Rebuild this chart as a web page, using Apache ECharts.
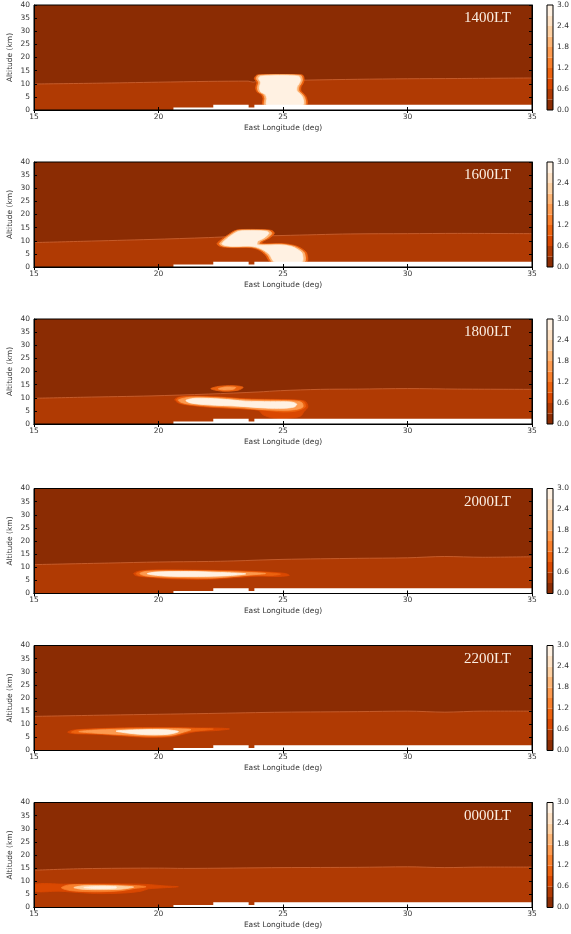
<!DOCTYPE html>
<html><head><meta charset="utf-8">
<script src="https://cdn.jsdelivr.net/npm/echarts@6/dist/echarts.min.js"></script>
<style>html,body{margin:0;padding:0;background:#fff}#c{width:571px;height:934px}</style>
</head><body><div id="c"></div>
<script>
// ---------- data ----------
const panelLabels = ['1400LT','1600LT','1800LT','2000LT','2200LT','0000LT'];
const lonTicks = [15, 20, 25, 30, 35];
const altTicks = [0, 5, 10, 15, 20, 25, 30, 35, 40];
const levelBounds = [0.0,0.3,0.6,0.9,1.2,1.5,1.8,2.1,2.4,2.7,3.0];
const cbTicks = [0.0,0.6,1.2,1.8,2.4,3.0];
const backgroundLevel = 0.15;   // value of the upper region
const lowerLevel = 0.45;        // value of the lower region

// terrain (white mask): [lon, km]
const terrain = [[15,0],[20.6,0],[20.6,0.95],[22.2,0.95],[22.2,2.0],[23.62,2.0],[23.62,0.95],[23.85,0.95],[23.85,2.0],[35,2.0]];

// top of the lower (0.3-0.6) layer
const lowerTop1400 = [[15,9.9],[17.5,10.2],[20,10.6],[22,10.9],[23.6,11.0],[23.8,10.6],[24.0,11.0],[26,11.4],[28,11.7],[30,11.9],[32,12.0],[35,12.2]];
const lowerTop1600 = [[15,9.3],[17,9.8],[19.7,10.5],[22,11.2],[23,11.6],[25,12.0],[27.7,12.6],[30,12.7],[32,12.8],[35,12.7]];
const lowerTop1800 = [[15,9.8],[17,10.2],[19.7,10.7],[22,11.4],[24,12.2],[24.9,12.7],[26.5,13.2],[28,13.3],[30,13.5],[32,13.3],[35,13.2]];
const lowerTop2000 = [[15,11.0],[18,11.6],[20,12.0],[22,12.2],[23,12.4],[25,13.0],[28,13.4],[30,13.6],[31.5,14.1],[33,13.8],[35,14.0]];
const lowerTop2200 = [[15,13.0],[18,13.5],[20,13.8],[22,14.1],[25,14.6],[28,14.8],[30,15.0],[31.5,14.6],[33,15.0],[35,15.0]];
const lowerTop0000 = [[15,14.2],[17,14.8],[20,15.0],[21,14.9],[25,15.2],[28,15.3],[30,15.5],[31.5,15.2],[33,15.4],[35,15.4]];

// cloud contours: level value + outline [lon, km]
const clouds1400 = [
  {v:1.05, pts:[[23.95,13.3],[24.1,13.45],[25.6,13.45],[25.8,13.2],[25.85,11.5],[25.8,10.0],[25.72,8.8],[25.72,7.2],[25.85,6.0],[25.95,4.5],[25.95,2],[24.2,2],[24.2,4.5],[24.12,6.0],[23.95,7.0],[23.9,8.5],[23.95,10.5],[23.85,12.0],[23.9,12.9]]},
  {v:1.95, pts:[[24.02,13.2],[25.7,13.2],[25.78,11.5],[25.72,10],[25.64,8.8],[25.64,7.2],[25.78,6.0],[25.88,4.5],[25.88,2],[24.27,2],[24.27,4.5],[24.2,6.0],[24.02,7],[23.97,8.5],[24.02,10.5],[23.93,12]]},
  {v:2.85, pts:[[24.1,12.9],[25.62,12.9],[25.7,11.5],[25.64,10],[25.56,8.8],[25.56,7.2],[25.7,6.0],[25.8,4.5],[25.8,2],[24.35,2],[24.35,4.5],[24.28,6.0],[24.1,7],[24.05,8.5],[24.1,10.5],[24.02,12]]}
];
const clouds1600 = [
  {v:1.05, pts:[[22.35,8.9],[22.6,11.0],[22.8,12.3],[23.05,13.8],[23.3,14.25],[24.1,14.25],[24.55,13.9],[24.65,12.8],[24.45,11.0],[24.2,9.8],[24.15,8.9],[25.0,8.9],[25.5,8.1],[25.75,7.0],[25.95,5.3],[25.95,2],[24.5,2],[24.3,4.5],[24.05,6.4],[23.7,7.4],[22.9,7.4],[22.5,7.8]]},
  {v:1.95, pts:[[22.45,8.9],[22.68,11.0],[22.88,12.3],[23.12,13.7],[23.35,14.05],[24.05,14.05],[24.45,13.75],[24.55,12.8],[24.35,11.0],[24.1,9.8],[24.05,8.65],[24.95,8.65],[25.42,7.95],[25.66,6.9],[25.86,5.3],[25.86,2],[24.58,2],[24.38,4.6],[24.13,6.5],[23.75,7.65],[22.92,7.65],[22.58,8.0]]},
  {v:2.85, pts:[[22.55,8.9],[22.78,11.0],[22.97,12.3],[23.2,13.5],[23.42,13.8],[24.0,13.8],[24.35,13.55],[24.43,12.8],[24.22,11.0],[23.98,9.8],[23.98,8.4],[24.9,8.4],[25.33,7.8],[25.56,6.8],[25.76,5.3],[25.76,2],[24.66,2],[24.46,4.7],[24.2,6.6],[23.8,7.9],[22.95,7.9],[22.68,8.2]]}
];
const clouds1800 = [
  {v:0.75, pts:[[20.65,9.3],[20.8,10.2],[21.3,10.6],[22.5,10.3],[23.5,9.6],[24.5,9.4],[25.4,9.2],[25.9,8.6],[26.0,6.5],[25.85,4.8],[25.7,3.0],[25.2,2.2],[24.6,2.3],[24.2,3.5],[24.0,5.3],[23.0,5.9],[22.0,6.4],[21.2,7.2],[20.8,8.0]]},
  {v:1.05, pts:[[20.72,9.3],[20.85,10.1],[21.3,10.45],[22.5,10.15],[23.5,9.45],[24.5,9.25],[25.4,9.05],[25.82,8.5],[25.9,6.5],[25.55,5.0],[25.0,4.6],[24.3,5.2],[23.1,6.0],[22.0,6.6],[21.2,7.35],[20.85,8.1]]},
  {v:1.65, pts:[[20.8,9.2],[21.3,10.2],[22.5,9.9],[23.5,9.2],[24.5,9.0],[25.4,8.8],[25.75,8.2],[25.8,6.5],[25.5,5.5],[25.0,5.2],[24.2,5.5],[23.2,6.3],[22.0,6.9],[21.2,7.6],[20.9,8.3]]},
  {v:2.85, pts:[[21.1,9.0],[21.5,9.8],[22.5,9.5],[23.5,8.7],[24.5,8.5],[25.3,8.4],[25.55,7.6],[25.45,6.5],[25.0,6.0],[24.3,6.1],[23.2,6.8],[22.0,7.3],[21.3,8.0]]},
  {v:1.05, pts:[[22.1,13.4],[22.4,14.3],[23.0,14.6],[23.4,14.0],[23.2,12.9],[22.6,12.5]]},
  {v:1.65, pts:[[22.4,13.4],[22.7,14.1],[23.1,13.9],[23.0,13.2],[22.6,13.0]]}
];
const clouds2000 = [
  {v:0.75, pts:[[19.0,7.6],[19.2,8.5],[19.8,8.95],[21.0,8.95],[22.5,8.75],[23.5,8.55],[24.5,8.1],[25.1,7.6],[25.25,6.9],[24.8,6.5],[24.0,6.6],[23.0,6.0],[22.0,5.4],[20.5,5.6],[19.6,6.2],[19.1,6.8]]},
  {v:1.05, pts:[[19.1,7.6],[19.3,8.4],[19.85,8.8],[21.0,8.8],[22.5,8.6],[23.5,8.35],[24.4,7.9],[24.9,7.4],[24.6,6.9],[23.8,6.9],[22.9,6.3],[22.0,5.7],[20.5,5.85],[19.7,6.4],[19.2,6.9]]},
  {v:1.65, pts:[[19.25,7.6],[19.5,8.4],[21.0,8.6],[22.5,8.4],[23.6,8.0],[24.3,7.6],[23.6,7.0],[22.8,6.3],[22.0,5.9],[20.5,6.2],[19.5,6.7]]},
  {v:2.85, pts:[[19.55,7.5],[19.9,8.15],[21.2,8.35],[22.5,8.0],[23.5,7.5],[22.8,6.8],[21.6,6.5],[20.2,6.7]]}
];
const clouds2200 = [
  {v:0.75, pts:[[16.35,7.0],[16.6,7.8],[17.5,8.3],[19.0,8.7],[20.5,8.7],[21.5,8.6],[22.5,8.5],[22.85,8.2],[22.3,7.6],[21.5,7.2],[21.0,6.2],[20.5,5.2],[19.5,5.0],[18.5,5.6],[17.5,6.2],[16.6,6.4]]},
  {v:1.05, pts:[[16.5,7.0],[16.7,7.7],[17.5,8.15],[19.0,8.55],[20.5,8.55],[21.5,8.4],[22.2,8.2],[21.8,7.7],[21.2,7.1],[20.8,6.1],[20.4,5.4],[19.5,5.25],[18.5,5.8],[17.5,6.4],[16.7,6.6]]},
  {v:1.65, pts:[[16.8,7.2],[17.5,7.8],[19.0,8.2],[20.5,8.3],[21.3,8.0],[21.0,7.0],[20.5,5.8],[19.5,5.6],[18.5,6.1],[17.5,6.6]]},
  {v:2.85, pts:[[18.3,7.4],[19.2,7.9],[20.3,7.9],[20.8,7.2],[20.4,6.2],[19.6,6.0],[18.8,6.6]]}
];
const clouds0000 = [
  {v:0.75, pts:[[15,8.8],[16.2,8.9],[18.5,9.0],[19.5,8.8],[20.3,8.2],[20.8,7.9],[20.2,7.5],[19.6,7.1],[19.3,6.2],[18.6,5.5],[17.5,5.3],[16.5,5.9],[16.0,6.2],[15,6.2]]},
  {v:1.35, pts:[[16.1,7.5],[16.4,8.6],[17.5,8.7],[19.0,8.4],[19.5,7.9],[19.0,7.2],[18.5,6.4],[17.5,6.0],[16.5,6.4]]},
  {v:2.25, pts:[[16.6,7.6],[17.0,8.3],[18.2,8.3],[19.0,7.8],[18.5,7.0],[17.5,6.8],[16.9,7.0]]},
  {v:2.85, pts:[[17.0,7.6],[17.5,8.0],[18.3,7.9],[18.3,7.4],[17.5,7.2]]}
];

const lowerTops = [lowerTop1400, lowerTop1600, lowerTop1800, lowerTop2000, lowerTop2200, lowerTop0000];
const cloudSets = [clouds1400, clouds1600, clouds1800, clouds2000, clouds2200, clouds0000];

// ---------- styling / layout ----------
const bandColors = ['#8b2c03','#b03a03','#d94801','#ec620f','#f87f2c','#fd9a4f','#fdb576','#fdd0a2','#fee2c5','#fff1e2'];
function colorOf(v){
  let k = Math.floor(v / 0.3);
  if (k < 0) k = 0; if (k > 9) k = 9;
  return bandColors[k];
}
const panelTops = [5, 162, 319, 488.5, 645.5, 802.5];
const panelH = 105;
const font = 'DejaVu Sans';
const labelStyle = {fontSize: 7.5, color: '#333', fontFamily: font};

const grids = [], xAxes = [], yAxes = [], series = [], titles = [];

panelLabels.forEach((lab, i) => {
  const top = panelTops[i];
  // main panel grid
  grids.push({left: 34, width: 498, top: top, height: panelH, show: true, outerBoundsMode: 'none', containLabel: false,
    backgroundColor: 'rgba(0,0,0,0)', borderColor: '#000', borderWidth: 1, z: 20});
  const g = grids.length - 1;
  const xb = xAxes.length;
  xAxes.push({gridIndex: g, type: 'value', min: lonTicks[0], max: lonTicks[lonTicks.length-1], interval: 5, position: 'bottom', z: 21,
    name: 'East Longitude (deg)', nameLocation: 'middle', nameGap: 14, nameMoveOverlap: false,
    nameTextStyle: {fontSize: 7.5, color: '#333', fontFamily: font},
    axisLine: {show: true, lineStyle: {color: '#000', width: 1}},
    axisTick: {inside: true, length: 3, lineStyle: {color: '#000'}},
    axisLabel: Object.assign({margin: 3}, labelStyle), splitLine: {show: false}});
  xAxes.push({gridIndex: g, type: 'value', min: 15, max: 35, interval: 5, position: 'top', z: 21,
    axisLine: {show: true, lineStyle: {color: '#000', width: 1}},
    axisTick: {inside: true, length: 3, lineStyle: {color: '#000'}},
    axisLabel: {show: false}, splitLine: {show: false}});
  const yb = yAxes.length;
  yAxes.push({gridIndex: g, type: 'value', min: altTicks[0], max: altTicks[altTicks.length-1], interval: 5, position: 'left', z: 21,
    name: 'Altitude (km)', nameLocation: 'middle', nameGap: 20, nameRotate: 90, nameMoveOverlap: false,
    nameTextStyle: {fontSize: 7.5, color: '#333', fontFamily: font},
    axisLine: {show: true, lineStyle: {color: '#000', width: 1}},
    axisTick: {inside: true, length: 3, lineStyle: {color: '#000'}},
    axisLabel: Object.assign({margin: 4}, labelStyle), splitLine: {show: false}});
  yAxes.push({gridIndex: g, type: 'value', min: 0, max: 40, interval: 5, position: 'right', z: 21,
    axisLine: {show: true, lineStyle: {color: '#000', width: 1}},
    axisTick: {inside: true, length: 3, lineStyle: {color: '#000'}},
    axisLabel: {show: false}, splitLine: {show: false}});

  // upper region (whole domain, lowest band)
  series.push({type: 'line', xAxisIndex: xb, yAxisIndex: yb, z: 1, silent: true, symbol: 'none',
    data: [[15, 40], [35, 40]], lineStyle: {width: 0},
    areaStyle: {color: colorOf(backgroundLevel), opacity: 1, origin: 'start'}});
  // lower layer
  series.push({type: 'line', xAxisIndex: xb, yAxisIndex: yb, z: 2, silent: true, symbol: 'none', smooth: 0.3,
    data: lowerTops[i], lineStyle: {width: 0.9, color: '#c8602f'},
    areaStyle: {color: colorOf(lowerLevel), opacity: 1, origin: 'start'}});
  // clouds
  const polys = cloudSets[i];
  series.push({type: 'custom', xAxisIndex: xb, yAxisIndex: yb, z: 3, silent: true, clip: true,
    data: polys.map(p => p.pts[0]),
    renderItem: function (params, api) {
      const p = polys[params.dataIndex];
      const c = colorOf(p.v);
      return {type: 'polygon', shape: {points: p.pts.map(q => api.coord(q)), smooth: 0.3},
        style: {fill: c, stroke: c, lineWidth: 0.8}};
    }});
  // terrain mask
  series.push({type: 'line', xAxisIndex: xb, yAxisIndex: yb, z: 4, silent: true, symbol: 'none',
    data: terrain, lineStyle: {width: 0},
    areaStyle: {color: '#ffffff', opacity: 1, origin: 'start'}});

  titles.push({text: lab, right: 60, top: top + 6, padding: 0,
    textStyle: {fontFamily: 'Liberation Serif', fontSize: 15, fontWeight: 'normal', color: '#fbeee2'}});

  // colour bar
  grids.push({left: 547, width: 6, top: top, height: panelH, show: true, outerBoundsMode: 'none', containLabel: false,
    backgroundColor: 'rgba(0,0,0,0)', borderColor: '#000', borderWidth: 1, z: 20});
  const cg = grids.length - 1;
  const cx = xAxes.length;
  xAxes.push({gridIndex: cg, type: 'category', data: [''], show: false});
  const cy = yAxes.length;
  yAxes.push({gridIndex: cg, type: 'value', min: cbTicks[0], max: cbTicks[cbTicks.length-1], interval: 0.6, position: 'right', z: 21,
    axisLine: {show: false}, axisTick: {inside: true, length: 2, lineStyle: {color: '#000'}},
    axisLabel: Object.assign({margin: 4, formatter: v => v.toFixed(1)}, labelStyle), splitLine: {show: false}});
  for (let k = 0; k < levelBounds.length - 1; k++) {
    series.push({type: 'bar', xAxisIndex: cx, yAxisIndex: cy, stack: 'cb' + i, silent: true, barWidth: '100%',
      data: [levelBounds[k + 1] - levelBounds[k]],
      itemStyle: {color: colorOf((levelBounds[k] + levelBounds[k + 1]) / 2)}});
  }
});

const chart = echarts.init(document.getElementById('c'), null, {renderer: 'canvas'});
chart.setOption({
  animation: false,
  backgroundColor: '#fff',
  title: titles,
  grid: grids,
  xAxis: xAxes,
  yAxis: yAxes,
  series: series
});
</script>
</body></html>
